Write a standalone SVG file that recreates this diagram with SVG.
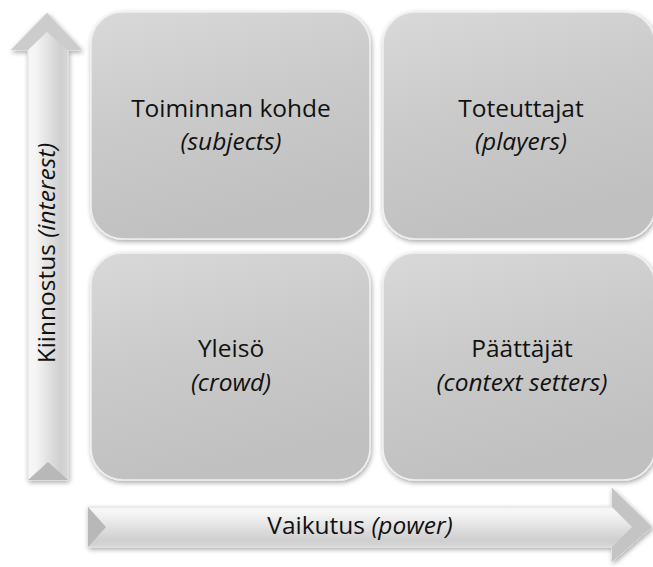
<svg xmlns="http://www.w3.org/2000/svg" width="653" height="567" viewBox="0 0 653 567">
<style>
.t{font-family:"Open Sans","Noto Sans",sans-serif;font-size:24.5px;fill:#111;text-anchor:middle}
.i{font-style:italic}
.box{fill:url(#bg);stroke:#efefef;stroke-width:1.5;filter:url(#sh)}
</style>
<defs>
<linearGradient id="bg" x1="0" y1="0" x2="0.3" y2="1">
<stop offset="0" stop-color="#d9d9d9"/>
<stop offset="0.5" stop-color="#cacaca"/>
<stop offset="1" stop-color="#c0c0c0"/>
</linearGradient>
<linearGradient id="vs" x1="0" y1="0" x2="1" y2="0">
<stop offset="0" stop-color="#ffffff"/>
<stop offset="0.35" stop-color="#f4f4f4"/>
<stop offset="0.7" stop-color="#cfcfcf"/>
<stop offset="1" stop-color="#e6e6e6"/>
</linearGradient>
<linearGradient id="hs" x1="0" y1="0" x2="0" y2="1">
<stop offset="0" stop-color="#ffffff"/>
<stop offset="0.35" stop-color="#f4f4f4"/>
<stop offset="0.7" stop-color="#cfcfcf"/>
<stop offset="1" stop-color="#e6e6e6"/>
</linearGradient>
<filter id="sh" x="-10%" y="-10%" width="120%" height="120%">
<feGaussianBlur in="SourceAlpha" stdDeviation="2.5"/>
<feOffset dx="1" dy="2" result="b"/>
<feComponentTransfer><feFuncA type="linear" slope="0.35"/></feComponentTransfer>
<feMerge><feMergeNode/><feMergeNode in="SourceGraphic"/></feMerge>
</filter>
</defs>
<g id="connectors">
<g id="axis-y" filter="url(#sh)">
<path d="M28,480 L28,50 L11,50 L47,13 L82,50 L68,50 L68,480 Z" fill="url(#vs)" stroke="#e0e0e0" stroke-width="1"/>
<path d="M11,50 L47,13 L82,50 L68,50 L47,32 L28,50 Z" fill="#cccccc"/>
<path d="M28,480 L48,462 L68,480 Z" fill="#b8b8b8"/>
</g>
<g id="axis-x" filter="url(#sh)">
<path d="M88,507 L612,507 L612,488 L652,527 L612,562 L612,547 L88,547 Z" fill="url(#hs)" stroke="#e0e0e0" stroke-width="1"/>
<path d="M88,507 L106,527 L88,547 Z" fill="#b8b8b8"/>
<path d="M612,488 L652,527 L612,562 L612,547 L632,527 L612,507 Z" fill="#c4c4c4"/>
</g>
</g>
<g id="subjects">
<rect class="box" x="91" y="12" width="279" height="227" rx="32"/>
<text class="t" x="231" y="117">Toiminnan kohde</text>
<text class="t i" x="231" y="150">(subjects)</text>
</g>
<g id="players">
<rect class="box" x="383" y="12" width="272" height="227" rx="32"/>
<text class="t" x="521" y="117">Toteuttajat</text>
<text class="t i" x="521" y="150">(players)</text>
</g>
<g id="crowd">
<rect class="box" x="91" y="253" width="279" height="227" rx="32"/>
<text class="t" x="231" y="357">Yleisö</text>
<text class="t i" x="231" y="391">(crowd)</text>
</g>
<g id="context-setters">
<rect class="box" x="383" y="253" width="272" height="227" rx="32"/>
<text class="t" x="522" y="357">Päättäjät</text>
<text class="t i" x="522" y="391">(context setters)</text>
</g>
<text class="t" transform="translate(55,253) rotate(-90)">Kiinnostus <tspan class="i">(interest)</tspan></text>
<text class="t" x="360" y="534">Vaikutus <tspan class="i">(power)</tspan></text>
</svg>
